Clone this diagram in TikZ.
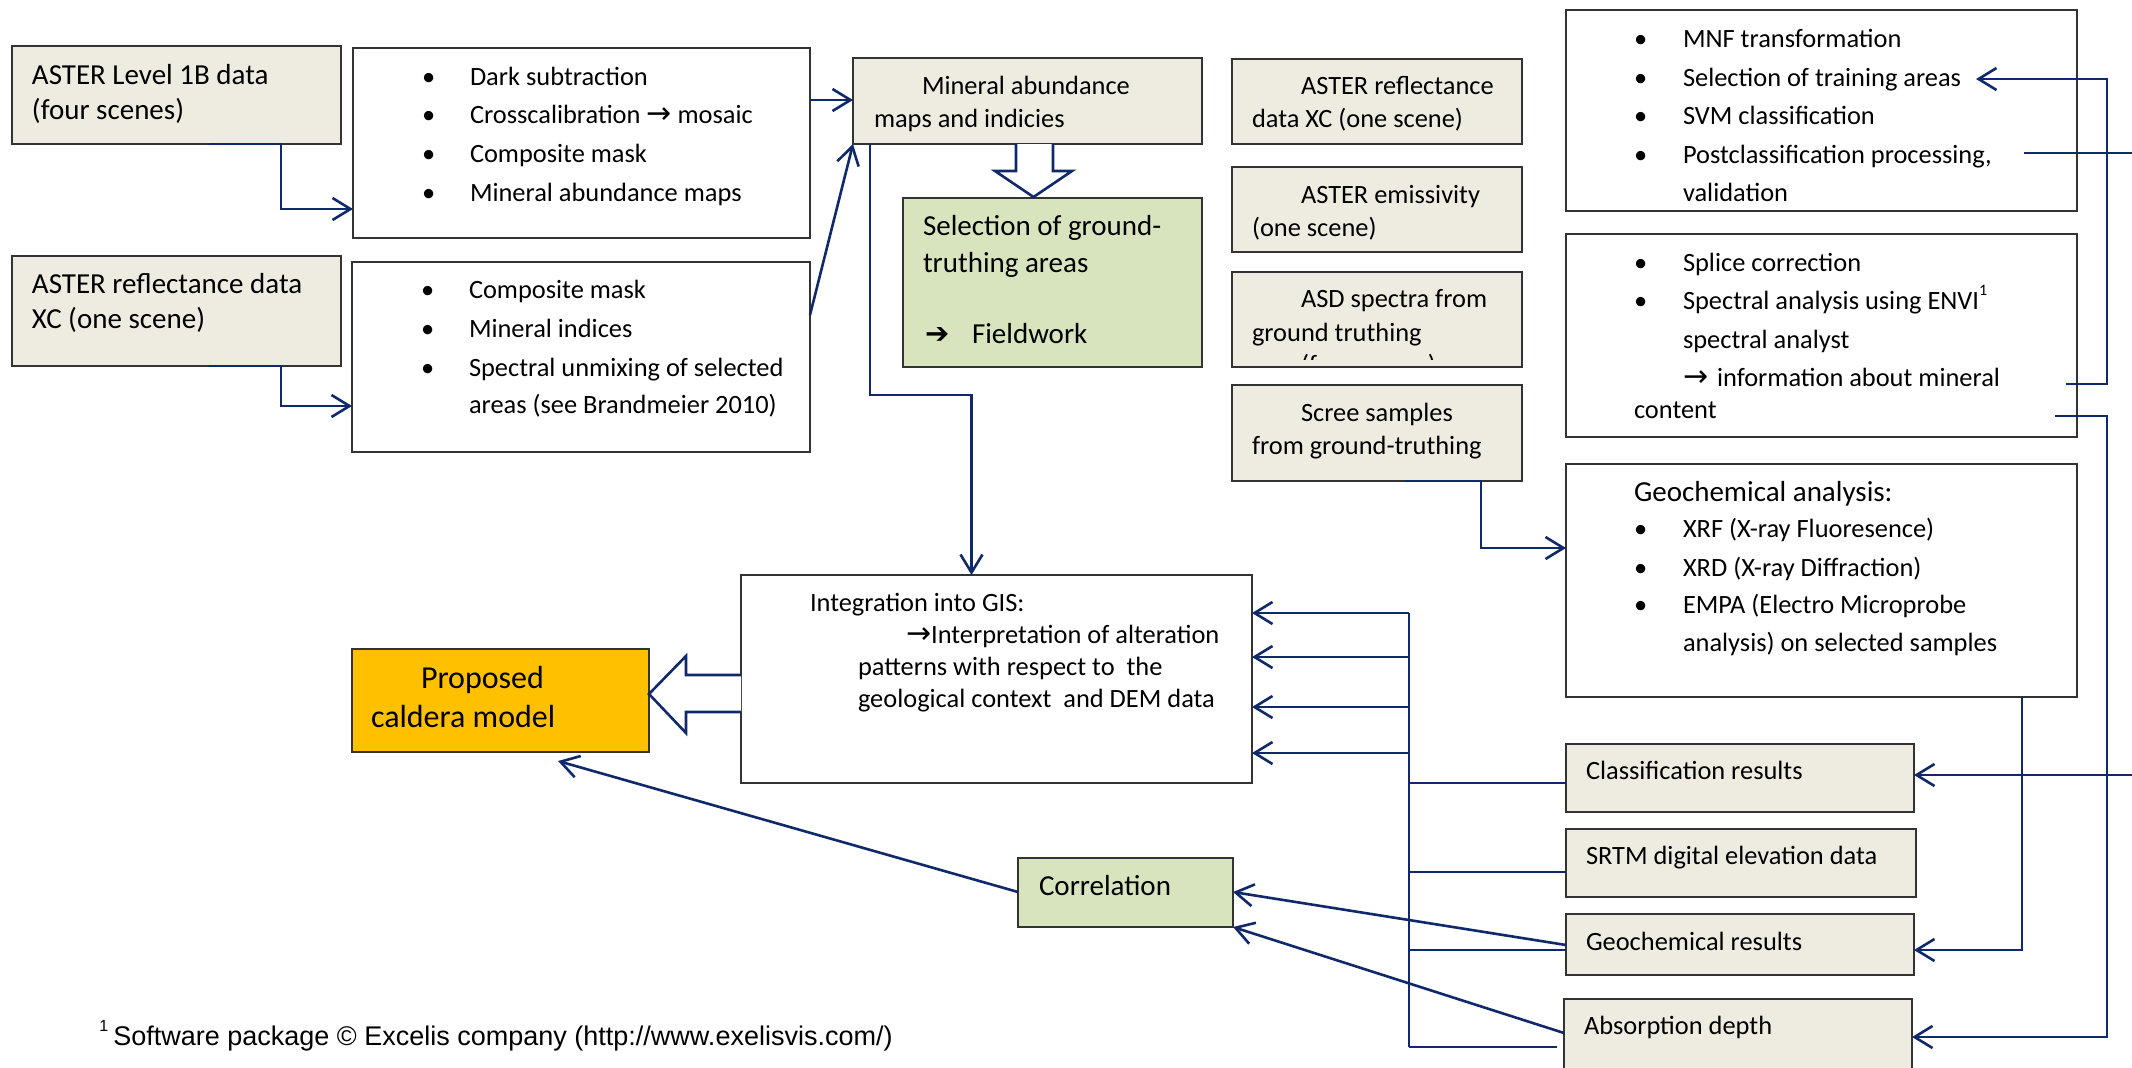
\documentclass[tikz,border=0pt]{standalone}
\usepackage{fontspec}
\setmainfont{Carlito}
\newfontfamily\dv{DejaVu Sans}
\newfontfamily\arialf{Liberation Sans}
\usetikzlibrary{arrows.meta,fit}
\definecolor{navy}{HTML}{10296B}
\definecolor{beige}{HTML}{EEECE1}
\definecolor{lgreen}{HTML}{D7E4BD}
\definecolor{orng}{HTML}{FFC000}
\definecolor{boxline}{HTML}{333333}
\newcommand\fsN{\fontsize{13.2}{16}\selectfont}
\newcommand\fsL{\fontsize{14.5}{17}\selectfont}
\newcommand\fsX{\fontsize{16}{19}\selectfont}
\newcommand\rarr{{\dv\fontsize{15}{16}\selectfont →}}
\tikzset{
  box/.style={draw=boxline, line width=1pt, inner sep=0pt, outer sep=0pt, rectangle},
  wbox/.style={box, fill=white},
  bbox/.style={box, fill=beige},
  gbox/.style={box, fill=lgreen},
  obox/.style={box, fill=orng},
  t/.style={anchor=base west, inner sep=0pt, outer sep=0pt, font=\fsN},
  tl/.style={t, font=\fsL},
  tx/.style={t, font=\fsX},
  conn/.style={draw=navy, line width=1.3pt},
  arr/.style={conn, -{Straight Barb[length=9pt,width=11pt,line width=1.3pt]}},
  hollow/.style={draw=navy, line width=1.3pt, fill=white, line join=miter}
}
\begin{document}
\begin{tikzpicture}[x=0.5pt,y=-0.5pt]
\useasboundingbox (0,0) rectangle (2132,1067);
\clip (0,0) rectangle (2132,1067);
\fill[white] (0,0) rectangle (2132,1067);

% ---------- boxes ----------
\node[bbox, fit={(12,46)(341,144)}] (A1) {};
\node[wbox, fit={(353,48)(810,238)}] (B1) {};
\node[bbox, fit={(12,256)(341,366)}] (A2) {};
\node[wbox, fit={(352,262)(810,452)}] (B2) {};
\node[bbox, fit={(853,58)(1202,144)}] (MA) {};
\node[gbox, fit={(903,198)(1202,367)}] (G) {};
\node[bbox, fit={(1232,59)(1522,144)}] (R1) {};
\node[bbox, fit={(1232,167)(1522,252)}] (R2) {};
\node[bbox, fit={(1232,272)(1522,367)}] (R3) {};
\node[bbox, fit={(1232,385)(1522,481)}] (R4) {};
\node[wbox, fit={(1566,10)(2077,211)}] (MNF) {};
\node[wbox, fit={(1566,234)(2077,437)}] (SPL) {};
\node[wbox, fit={(1566,464)(2077,697)}] (GEO) {};
\node[wbox, fit={(741,575)(1252,783)}] (INT) {};
\node[obox, fit={(352,649)(649,752)}] (CAL) {};
\node[gbox, fit={(1018,858)(1233,927)}] (COR) {};
\node[bbox, fit={(1566,744)(1914,812)}] (CR) {};
\node[bbox, fit={(1566,829)(1916,897)}] (SRTM) {};
\node[bbox, fit={(1566,914)(1914,975)}] (GR) {};
\node[bbox, fit={(1564,999)(1912,1100)}] (AD) {};

% ---------- texts ----------
\node[tl] (tA1a) at (32,84) {ASTER Level 1B data};
\node[tl] (tA1b) at (32,119) {(four scenes)};
\node[tl] (tA2a) at (32,293) {ASTER reflectance data};
\node[tl] (tA2b) at (32,328) {XC (one scene)};

\node[t] (bB1a) at (422,85) {•};  \node[t] (tB1a) at (470,85) {Dark subtraction};
\node[t] (bB1b) at (422,123) {•}; \node[t] (tB1b) at (470,123) {Crosscalibration \rarr\ mosaic};
\node[t] (bB1c) at (422,162) {•}; \node[t] (tB1c) at (470,162) {Composite mask};
\node[t] (bB1d) at (422,201) {•}; \node[t] (tB1d) at (470,201) {Mineral abundance maps};

\node[t] (bB2a) at (421,298) {•}; \node[t] (tB2a) at (469,298) {Composite mask};
\node[t] (bB2b) at (421,337) {•}; \node[t] (tB2b) at (469,337) {Mineral indices};
\node[t] (bB2c) at (421,376) {•}; \node[t] (tB2c) at (469,376) {Spectral unmixing of selected};
\node[t] (tB2d) at (469,413) {areas (see Brandmeier 2010)};

\node[t] (tMAa) at (922,94) {Mineral abundance};
\node[t] (tMAb) at (874,127) {maps and indicies};

\node[tl] (tGa) at (923,235) {Selection of ground-};
\node[tl] (tGb) at (923,272) {truthing areas};
\node[tl] (tGc) at (925,343) {\dv\bfseries ➔};
\node[tl] (tGd) at (972,343) {Fieldwork};

\node[t] (tR1a) at (1301,94) {ASTER reflectance};
\node[t] (tR1b) at (1252,127) {data XC (one scene)};
\node[t] (tR2a) at (1301,203) {ASTER emissivity};
\node[t] (tR2b) at (1252,236) {(one scene)};
\node[t] (tR3a) at (1301,307) {ASD spectra from};
\node[t] (tR3b) at (1252,341) {ground truthing};
\begin{scope}
\clip (1233,273) rectangle (1521,359);
\node[t] (tR3c) at (1301,373) {(from scree\,)};
\end{scope}
\node[t] (tR4a) at (1301,421) {Scree samples};
\node[t] (tR4b) at (1252,454) {from ground-truthing};

\node[t] (bMa) at (1634,47) {•};  \node[t] (tMa) at (1683,47) {MNF transformation};
\node[t] (bMb) at (1634,86) {•};  \node[t] (tMb) at (1683,86) {Selection of training areas};
\node[t] (bMc) at (1634,124) {•}; \node[t] (tMc) at (1683,124) {SVM classification};
\node[t] (bMd) at (1634,163) {•}; \node[t] (tMd) at (1683,163) {Postclassification processing,};
\node[t] (tMe) at (1683,201) {validation};

\node[t] (bSa) at (1634,271) {•}; \node[t] (tSa) at (1683,271) {Splice correction};
\node[t] (bSb) at (1634,309) {•}; \node[t] (tSb) at (1683,309) {Spectral analysis using ENVI\raisebox{1.1ex}{\fontsize{8}{9}\selectfont 1}};
\node[t] (tSc) at (1683,348) {spectral analyst};
\node[t] (tSd) at (1683,386) {\rarr};
\node[t] (tSe) at (1717,386) {information about mineral};
\node[t] (tSf) at (1634,418) {content};

\node[tl] (tGEa) at (1634,501) {Geochemical analysis:};
\node[t] (bGEb) at (1634,537) {•}; \node[t] (tGEb) at (1683,537) {XRF (X-ray Fluoresence)};
\node[t] (bGEc) at (1634,576) {•}; \node[t] (tGEc) at (1683,576) {XRD (X-ray Diffraction)};
\node[t] (bGEd) at (1634,613) {•}; \node[t] (tGEd) at (1683,613) {EMPA (Electro Microprobe};
\node[t] (tGEe) at (1683,651) {analysis) on selected samples};

\node[t] (tIa) at (810,611) {Integration into GIS:};
\node[t] (tIb) at (906,643) {\rarr Interpretation of alteration};
\node[t] (tIc) at (858,675) {patterns with respect to\ \ the};
\node[t] (tId) at (858,707) {geological context\ \ and DEM data};

\node[tx] (tCa) at (421,688) {Proposed};
\node[tx] (tCb) at (371,727) {caldera model};

\node[tl] (tCO) at (1039,895) {Correlation};

\node[t] (tCR) at (1586,779) {Classification results};
\node[t] (tSR) at (1586,864) {SRTM digital elevation data};
\node[t] (tGR) at (1586,950) {Geochemical results};
\node[t] (tAD) at (1584,1034) {Absorption depth};

\node[anchor=base west, inner sep=0pt, font=\arialf\fontsize{8}{9}\selectfont] (fn1) at (99,1031) {1};
\node[anchor=base west, inner sep=0pt, font=\arialf\fontsize{13.5}{16}\selectfont] (fn2) at (113,1045) {Software package © Excelis company (http://www.exelisvis.com/)};

% ---------- hollow block arrows ----------
\draw[hollow] (1016,144) -- (1016,171) -- (995,171) -- (1033.5,197) -- (1072,171) -- (1053,171) -- (1053,144);
\draw[hollow] (741,675) -- (686,675) -- (686,656) -- (649,694) -- (686,733) -- (686,712) -- (741,712);

% ---------- connectors ----------
\draw[arr] (A1.south -| 209,0) -- (A1.south -| 281,0) -- (281,209) -- (B1.west |- 0,209);
\draw[arr] (A2.south -| 209,0) -- (A2.south -| 281,0) -- (281,406) -- (B2.west |- 0,406);
\draw[arr] (B1.east |- 0,100) -- (MA.west |- 0,100);
\draw[arr] (B2.east |- 0,315) -- (MA.south west);
\draw[arr] (MA.south -| 870,0) -- (870,395) -- (971.5,395) -- (INT.north -| 971.5,0);
\draw[arr] (R4.south -| 1405,0) -- (R4.south -| 1481,0) -- (1481,548) -- (GEO.west |- 0,548);

\draw[arr] (2066,384) -- (2107,384) -- (2107,79) -- (1976,79);
\draw[arr] (2024,153) -- (2150,153) -- (2150,775) -- (CR.east |- 0,775);
\draw[arr] (2055,416) -- (2107,416) -- (2107,1037) -- (AD.east |- 0,1037);
\draw[arr] (GEO.south -| 2022,0) -- (2022,950) -- (GR.east |- 0,950);

% bus
\draw[conn] (CR.west |- 0,783) -- (1409,783);
\draw[conn] (SRTM.west |- 0,872) -- (1409,872);
\draw[conn] (GR.west |- 0,950) -- (1409,950);
\draw[conn] (1557,1047) -- (1409,1047);
\draw[conn] (1409,613) -- (1409,1047);
\draw[arr] (1409,613) -- (INT.east |- 0,613);
\draw[arr] (1409,657) -- (INT.east |- 0,657);
\draw[arr] (1409,707) -- (INT.east |- 0,707);
\draw[arr] (1409,753) -- (INT.east |- 0,753);

\draw[arr] (GR.west |- 0,945) -- (COR.east |- 0,892);
\draw[arr] (AD.west |- 0,1033) -- (COR.south east);
\draw[arr] (COR.west |- 0,892) -- (558,761);
\end{tikzpicture}
\end{document}
